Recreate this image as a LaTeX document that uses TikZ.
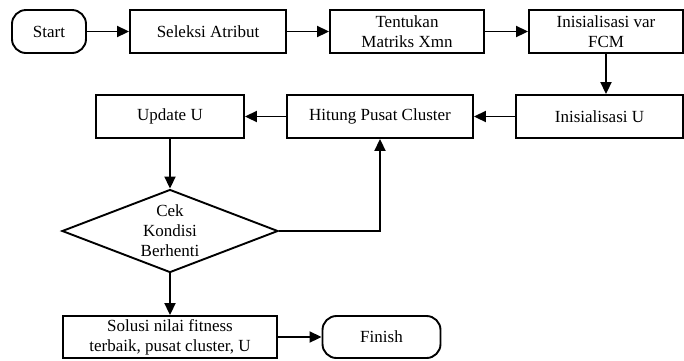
\documentclass[tikz,border=0pt]{standalone}
\usepackage{fontspec}
\setmainfont{Liberation Serif}
\usetikzlibrary{arrows.meta, shapes.geometric}

\tikzset{
	stepbox/.style={draw, line width=1.9pt, minimum height=43pt, inner sep=0pt, align=center},
	terminal/.style={stepbox, rounded corners=14pt},
	flow/.style={line width=1.9pt, -{Triangle[length=12pt, width=11pt]}},
}

\begin{document}
\begin{tikzpicture}[x=1pt, y=-1pt, every node/.style={font=\rmfamily\fontsize{17}{20}\selectfont}]
	\useasboundingbox (0,0) rectangle (684,360);
	
	\begin{scope}
	\node[terminal, minimum width=74pt] (start) at (49,31.5) {Start};
	\node[stepbox, minimum width=156pt] (seleksi) at (208,31.5) {Seleksi Atribut};
	\node[stepbox, minimum width=154pt] (matriks) at (407,31.5) {Tentukan\\Matriks Xmn};
	\node[stepbox, minimum width=154pt] (initvar) at (606,31.5) {Inisialisasi var\\FCM};
	\end{scope}
	
	\begin{scope}
	\node[stepbox, minimum width=148pt] (update) at (170,116.5) {Update U};
	\node[stepbox, minimum width=186pt] (hitung) at (380,116.5) {Hitung Pusat Cluster};
	\node[stepbox, minimum width=167pt] (initu) at (599.5,116.5) {Inisialisasi U};
	\end{scope}
	
	\begin{scope}
	\node[diamond, draw, line width=1.9pt, minimum width=216pt, minimum height=83pt, inner sep=0pt] (cek) at (170,231) {};
	\node[align=center] (cektext) at (cek.center) {Cek\\Kondisi\\Berhenti};
	\end{scope}
	
	\begin{scope}
	\node[stepbox, minimum width=214pt, minimum height=42pt] (solusi) at (170,337) {Solusi nilai fitness\\terbaik, pusat cluster, U};
	\node[terminal, minimum width=118pt, minimum height=42pt] (finish) at (381.5,337) {Finish};
	\end{scope}
	
	\begin{scope}[flow]
	\draw (start) -- (seleksi);
	\draw (seleksi) -- (matriks);
	\draw (matriks) -- (initvar);
	\draw (initvar.south) -- (initvar.south |- initu.north);
	\draw (initu) -- (hitung);
	\draw (hitung) -- (update);
	\draw (update) -- (cek.north);
	\draw (cek.east) -| (hitung.south);
	\draw (cek.south) -- (solusi);
	\draw (solusi) -- (finish);
	\end{scope}
\end{tikzpicture}
\end{document}
